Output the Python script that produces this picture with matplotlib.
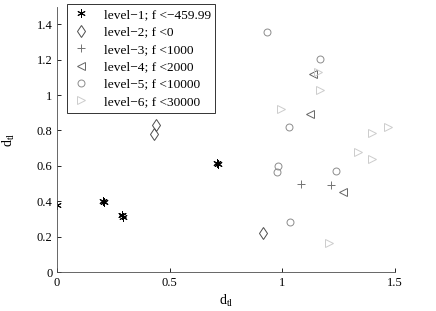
import matplotlib
matplotlib.use('Agg')
import matplotlib.pyplot as plt

plt.rcParams['font.family'] = ['Liberation Serif', 'DejaVu Serif']
plt.rcParams['mathtext.fontset'] = 'custom'
plt.rcParams['mathtext.rm'] = 'Liberation Serif'
plt.rcParams['mathtext.it'] = 'Liberation Serif'

# data
labels = ['level\u22121; f <\u2212459.99', 'level\u22122; f <0', 'level\u22123; f <1000',
          'level\u22124; f <2000', 'level\u22125; f <10000', 'level\u22126; f <30000']

x1 = [0.0, 0.204, 0.206, 0.29, 0.292, 0.29, 0.71, 0.712]
y1 = [0.38, 0.40, 0.398, 0.32, 0.31, 0.325, 0.615, 0.612]
x2 = [0.43, 0.44, 0.915]
y2 = [0.78, 0.83, 0.22]
x3 = [1.083, 1.216]
y3 = [0.497, 0.49]
x4 = [1.136, 1.123, 1.269]
y4 = [1.12, 0.893, 0.452]
x5 = [0.932, 1.167, 1.03, 0.98, 0.976, 1.238, 1.034]
y5 = [1.356, 1.203, 0.82, 0.6, 0.565, 0.57, 0.283]
x6 = [1.158, 1.167, 0.994, 1.40, 1.47, 1.336, 1.40, 1.207]
y6 = [1.13, 1.028, 0.92, 0.785, 0.82, 0.68, 0.64, 0.165]

xs = [x1, x2, x3, x4, x5, x6]
ys = [y1, y2, y3, y4, y5, y6]
markers = [(6, 2, 0), 'd', '+', '<', 'o', '>']
colors = ['black', '0.3', '0.45', '0.4', '0.55', '0.8']
sizes = [6, 6.5, 6, 5.5, 5, 5.5]

fig = plt.figure(figsize=(4.36, 3.11), dpi=100)
ax = fig.add_axes([0.131, 0.125, 0.775, 0.854])

for i in range(6):
    ax.plot(xs[i], ys[i], linestyle='none', marker=markers[i], color=colors[i],
            markerfacecolor='none', markersize=sizes[i],
            markeredgewidth=0.7, label=labels[i])

ax.set_xlim(0, 1.5)
ax.set_ylim(0, 1.5)
ax.set_xticks([0, 0.5, 1, 1.5])
ax.set_xticklabels(['0', '0.5', '1', '1.5'])
ax.set_yticks([0, 0.2, 0.4, 0.6, 0.8, 1.0, 1.2, 1.4])
ax.set_yticklabels(['0', '0.2', '0.4', '0.6', '0.8', '1', '1.2', '1.4'])
ax.tick_params(direction='in', length=3, width=0.6, labelsize=9, colors='black')
ax.spines['top'].set_visible(False)
ax.spines['right'].set_visible(False)
for s in ['left', 'bottom']:
    ax.spines[s].set_linewidth(0.6)
    ax.spines[s].set_color('0.3')

ax.set_xlabel(r'd$_{\mathrm{tl}}$', fontsize=10, labelpad=3)
ax.set_ylabel(r'd$_{\mathrm{tl}}$', fontsize=10, labelpad=14)

leg = ax.legend(loc='upper left', bbox_to_anchor=(67 / 436, 1 - 4 / 311),
                bbox_transform=fig.transFigure, fontsize=9.6, frameon=True,
                fancybox=False, handlelength=1.4, handletextpad=1.0,
                borderpad=0.35, labelspacing=0.38, borderaxespad=0)
leg.get_frame().set_edgecolor('black')
leg.get_frame().set_linewidth(0.7)

fig.savefig('out.png', dpi=100)
